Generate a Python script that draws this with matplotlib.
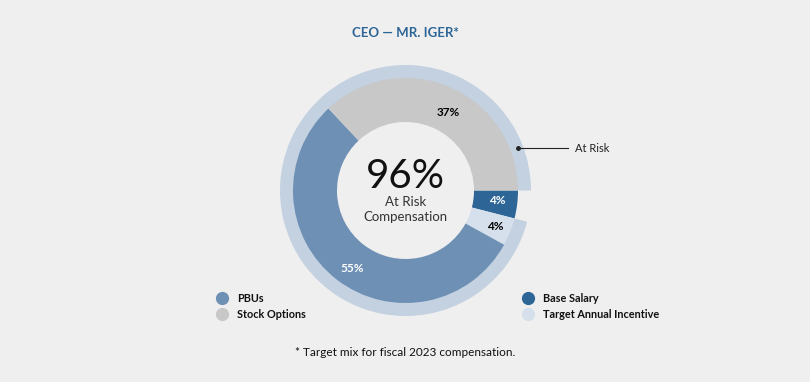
import matplotlib.pyplot as plt

# data
labels = ["Base Salary", "Target Annual Incentive", "PBUs", "Stock Options"]
shares = [4, 4, 55, 37]
colors = ["#2c6596", "#d5e0ec", "#6d90b4", "#c8c8c8"]
label_colors = ["white", "black", "white", "black"]
at_risk = [4, 96]  # base salary is not at risk
ring_colors = ["none", "#c3d1e1"]

bg = "#efefef"
W, H = 810, 382
cx, cy = 405.5, H - 190.5

fig = plt.figure(figsize=(W / 100, H / 100), dpi=100, facecolor=bg)
ax = fig.add_axes([0, 0, 1, 1])
ax.set_facecolor(bg)
plt.rcParams["font.family"] = ["Lato", "DejaVu Sans"]

# outer "at risk" ring
ax.pie(at_risk, colors=ring_colors, radius=125.5, center=(cx, cy), startangle=0,
       counterclock=False, wedgeprops=dict(width=14, linewidth=0), frame=True)

# inner donut
wedges, txts = ax.pie(shares, colors=colors, radius=112.5, center=(cx, cy), startangle=0,
                      counterclock=False, wedgeprops=dict(width=44, linewidth=0), frame=True)

# percentage labels
lab_pos = [(497, 201), (495, 227), (352, 268), (448, 113)]
for s, (x, y), c in zip(shares, lab_pos, label_colors):
    ax.text(x, H - y, f"{s}%", ha="center", va="center", fontsize=8.5, fontweight="bold", color=c)

# centre text
ax.text(cx, H - 176, "96%", ha="center", va="center", fontsize=29, fontweight="normal", color="#111111")
ax.text(cx, H - 202, "At Risk", ha="center", va="center", fontsize=9.5, color="#333333")
ax.text(cx, H - 217, "Compensation", ha="center", va="center", fontsize=9.5, color="#333333")

# title + footnote
ax.text(cx, H - 33, "CEO \u2014 MR. IGER*", ha="center", va="center", fontsize=9.5, fontweight="bold", color="#2c6596")
ax.text(cx, H - 352, "* Target mix for fiscal 2023 compensation.", ha="center", va="center", fontsize=8.5, color="#111111")

# at risk callout
ax.plot([518, 568], [H - 148, H - 148], color="#222222", lw=0.8)
ax.plot([518], [H - 148], "o", color="#222222", ms=2.5)
ax.text(575, H - 148, "At Risk", ha="left", va="center", fontsize=8, color="#222222")

# legend
leg_pos = [(528, 298), (528, 314), (222, 298), (222, 314)]
for lab, c, (x, y) in zip(labels, colors, leg_pos):
    ax.plot([x], [H - y], "o", color=c, ms=8.5)
    ax.text(x + 15, H - y, lab, ha="left", va="center", fontsize=7.8, fontweight="bold", color="#111111")

ax.set_xlim(0, W)
ax.set_ylim(0, H)
ax.set_aspect("equal")
ax.axis("off")

fig.savefig("out.png", dpi=100, facecolor=bg)
